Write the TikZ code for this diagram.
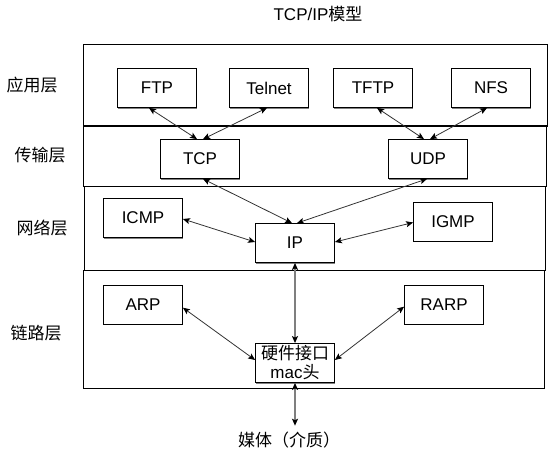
\documentclass[tikz,border=0pt]{standalone}
\usepackage{fontspec}
\setmainfont{Liberation Sans}
\newfontfamily\cjk{Noto Sans CJK SC}
\usepackage{tikz}
\usetikzlibrary{arrows.meta}
\usetikzlibrary{shadows}
\definecolor{linegray}{HTML}{333333}
\definecolor{busgray}{HTML}{7F7F7F}
\definecolor{shadegray}{HTML}{808080}

\begin{document}
\begin{tikzpicture}[x=1pt, y=-1pt,
        box/.style={draw, 
        fill=white, 
        line width=0.8pt,
        minimum width=79pt, 
        minimum height=39pt,
        inner sep=0pt, 
        align=center,
        font=\fontsize{17}{19}\selectfont,
        drop shadow={shadow xshift=0pt, shadow yshift=-1.2pt, fill=shadegray, opacity=1}},
        layer/.style={inner sep=0pt, font=\cjk\fontsize{17}{19}\selectfont},
        link/.style={draw=linegray, line width=0.8pt, <->},
        bus/.style={draw=busgray, line width=1.6pt, <->},
        >={Stealth[length=7pt, width=6pt, inset=1.5pt, color=black]}]
        \useasboundingbox (0,0) rectangle (548,455);
        \draw[line width=1pt] (83.5,44.5) rectangle (547,126.5);
        \draw[line width=1pt] (83.5,125.5) rectangle (546.5,186);
        \draw[line width=1pt] (84.5,186) rectangle (545,270);
        \draw[line width=1pt] (83.5,270) rectangle (544.5,388);
        \node[inner sep=0pt, font=\fontsize{17}{19}\selectfont] at (318,14) (title) {TCP/IP{\cjk 模型}};
        \node[layer] at (32,85) (app) {应用层};
        \node[layer] at (40,155) (trans) {传输层};
        \node[layer] at (42,228) (net) {网络层};
        \node[layer] at (36,333) (linklayer) {链路层};
        \node[box] at (157,88) (ftp) {FTP};
        \node[box] at (269,88) (telnet) {Telnet};
        \node[box] at (373,88) (tftp) {TFTP};
        \node[box] at (491,88) (nfs) {NFS};
        \node[box] at (200,159) (tcp) {TCP};
        \node[box] at (428,159) (udp) {UDP};
        \node[box] at (143,218) (icmp) {ICMP};
        \node[box] at (295,243) (ip) {IP};
        \node[box] at (453,221.5) (igmp) {IGMP};
        \node[box] at (143,304.7) (arp) {ARP};
        \node[box] at (444,304.7) (rarp) {RARP};
        \node[box] at (295,363) (hw) {{\cjk 硬件接口}\\mac{\cjk 头}};
        \node[layer] at (289,440) (media) {媒体（介质）};
        \draw[link] ([xshift=-8pt]ftp.south) -- ([xshift=-3pt]tcp.north);
        \draw[link] ([xshift=-2pt]telnet.south) -- ([xshift=3pt]tcp.north);
        \draw[link] ([xshift=4pt]tftp.south) -- ([xshift=-4pt]udp.north);
        \draw[link] ([xshift=-4pt]nfs.south) -- ([xshift=2pt]udp.north);
        \draw[link] ([xshift=3pt]tcp.south) -- ([xshift=-3pt]ip.north);
        \draw[link] ([xshift=-1pt]udp.south) -- ([xshift=2pt]ip.north);
        \draw[link] ([yshift=-1pt]icmp.east) -- ([yshift=1pt]ip.west);
        \draw[link] ([yshift=1pt]ip.east) -- ([yshift=-1pt]igmp.west);
        \draw[link] ([yshift=-3pt]arp.east) -- ([yshift=3pt]hw.west);
        \draw[link] ([yshift=-2pt]rarp.west) -- ([yshift=3pt]hw.east);
        \draw[bus] (ip.south) -- (hw.north);
        \draw[bus] (hw.south) -- ([yshift=6pt]hw.south |- media.north);
    \end{tikzpicture}
\end{document}
